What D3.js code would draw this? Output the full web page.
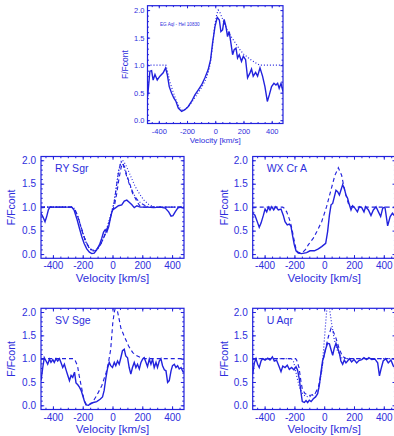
<!DOCTYPE html>
<html>
<head>
<meta charset="utf-8">
<script src="https://cdn.jsdelivr.net/npm/d3@7"></script>
<style>
  body { margin: 0; background: #fff; }
  svg { display: block; }
</style>
</head>
<body>
<svg id="chart" width="394" height="436"></svg>
<script>
// velocity axis + tick labels
const velRange = [-480, 480]
const velTicks = [-400, -200, 0, 200, 400]
const fluxTicks = [0, 0.5, 1.0, 1.5, 2.0]

// EG Aql - HeI 10830 (observed + model)
const egVel = [-479,-463,-451,-440,-427,-411,-392,-369,-352,-340,-326,-309,-293,-278,-262,-238,-215,-191,-168,-144,-120,-97,-73,-50,-33,-19,-2,14,29,40,52,63,76,87,99,111,123,134,147,158,170,186,199,215,229,246,257,269,286,300,317,335,352,369,383,399,416,430,442,453,466,480]
const egFlux = [0.43,0.89,0.9,0.73,0.83,0.73,0.8,0.86,0.95,0.83,0.61,0.49,0.4,0.34,0.22,0.16,0.19,0.25,0.34,0.46,0.55,0.64,0.77,0.92,1.1,1.4,1.7,1.87,1.82,1.61,1.64,1.83,1.7,1.52,1.61,1.4,1.19,1.28,1.31,1.13,1.19,1.07,1.16,1.1,0.77,0.86,0.93,0.8,0.87,0.8,0.95,0.8,0.61,0.34,0.46,0.61,0.67,0.64,0.67,0.58,0.67,0.52]
const egModelVel = [-480,-350,-336,-322,-302,-283,-264,-245,-230,-211,-187,-163,-139,-115,-91,-67,-48,-34,-19,-5,10,21,34,53,68,96,128,154,175,202,222,245,269,293,317,480]
const egModelFlux = [1.0,1.0,0.86,0.7,0.54,0.4,0.28,0.2,0.18,0.2,0.26,0.34,0.43,0.52,0.62,0.74,0.88,1.05,1.35,1.7,1.92,2.0,1.95,1.83,1.73,1.58,1.46,1.36,1.28,1.2,1.16,1.11,1.07,1.03,1.0,1.0]

// RY Sgr
const ryVel = [-480,-468,-453,-442,-430,-420,-374,-307,-274,-258,-240,-222,-206,-191,-173,-155,-139,-123,-106,-87,-72,-60,-49,-38,-25,-12,0,18,40,62,79,96,114,130,146,164,186,231,276,321,354,377,393,406,421,438,455,480]
const ryFlux = [0.87,0.8,0.69,0.8,0.95,1.0,1.0,1.0,1.0,0.94,0.76,0.55,0.37,0.23,0.11,0.04,0.01,0.02,0.09,0.2,0.34,0.47,0.52,0.47,0.59,0.8,0.94,0.98,1.03,1.05,1.13,1.15,1.1,1.05,0.99,1.03,1.0,1.0,0.99,1.0,0.98,0.9,0.81,0.82,0.9,0.98,1.0,0.98]
const ryDashVel = [-480,-274,-254,-235,-216,-197,-178,-158,-139,-120,-101,-82,-62,-43,-24,-5,14,29,43,58,69,82,96,119,134,153,168,186,211,480]
const ryDashFlux = [1.0,1.0,0.95,0.82,0.62,0.42,0.26,0.15,0.09,0.08,0.12,0.2,0.32,0.47,0.66,0.88,1.05,1.3,1.6,1.85,1.93,1.85,1.68,1.47,1.3,1.19,1.1,1.02,1.0,1.0]
const ryDashDotVel = [-480,-269,-250,-230,-211,-192,-173,-154,-134,-115,-96,-77,-58,-38,-19,0,14,29,43,58,72,91,115,139,163,192,221,250,480]
const ryDashDotFlux = [1.0,1.0,0.93,0.78,0.58,0.38,0.22,0.12,0.07,0.07,0.12,0.22,0.36,0.52,0.72,0.93,1.15,1.5,1.8,1.97,1.9,1.7,1.47,1.3,1.17,1.08,1.03,1.0,1.0]
const ryDotVel = [-480,-264,-252,-235,-216,-197,-178,-158,-139,-120,-101,-82,-62,-43,-24,-5,10,24,38,53,67,86,106,130,154,186,211,242,269,288,480]
const ryDotFlux = [1.0,1.0,0.95,0.82,0.62,0.42,0.25,0.13,0.07,0.06,0.1,0.2,0.34,0.5,0.7,0.92,1.1,1.4,1.72,1.93,2.0,1.92,1.78,1.6,1.43,1.26,1.15,1.06,1.02,1.0,1.0]

// WX Cr A
const wxVel = [-480,-465,-446,-436,-424,-408,-397,-386,-375,-364,-352,-339,-325,-308,-290,-275,-263,-248,-234,-223,-211,-201,-189,-174,-152,-118,-95,-66,-39,-17,10,23,35,46,57,68,79,90,102,112,124,135,146,157,169,180,191,206,223,236,252,267,278,297,314,330,348,364,379,393,408,426,443,458,476]
const wxFlux = [0.87,0.83,0.66,0.57,0.66,0.83,0.96,0.9,1.0,0.94,1.01,0.94,1.01,0.94,0.96,0.83,0.69,0.62,0.64,0.59,0.37,0.2,0.07,0.02,0.01,0.03,0.07,0.07,0.11,0.16,0.23,0.48,0.83,1.05,1.08,1.22,1.36,1.33,1.26,1.36,1.48,1.4,1.26,1.19,1.05,0.94,1.03,0.98,0.9,1.01,0.99,0.9,1.01,0.94,0.82,0.94,1.01,0.9,0.8,0.98,1.0,0.6,0.8,0.87,0.8]
const wxDashVel = [-480,-278,-264,-252,-240,-229,-218,-204,-190,-173,-144,-125,-106,-73,-51,-17,16,39,72,95,117,139,162,184,211,480]
const wxDashFlux = [1.0,1.0,0.97,0.9,0.8,0.7,0.56,0.33,0.12,0.03,0.04,0.1,0.2,0.34,0.47,0.69,1.01,1.29,1.68,1.84,1.68,1.33,1.08,1.01,1.0,1.0]

// SV Sge
const svVel = [-480,-468,-458,-446,-435,-423,-413,-401,-391,-379,-368,-356,-346,-334,-323,-312,-300,-289,-278,-267,-255,-245,-233,-222,-211,-200,-188,-178,-161,-146,-128,-106,-83,-67,-56,-45,-34,-22,-12,0,12,22,34,45,56,67,79,89,101,112,123,134,146,157,168,180,191,202,213,225,235,247,258,269,280,292,302,314,325,336,348,359,370,381,393,403,415,426,437,448,460,473,480]
const svFlux = [0.53,0.81,1.02,0.95,0.88,0.99,0.92,0.98,0.92,1.0,0.95,1.0,0.92,0.81,0.88,0.76,0.64,0.53,0.64,0.6,0.71,0.48,0.44,0.39,0.32,0.21,0.08,0.01,0.0,0.04,0.06,0.08,0.13,0.18,0.32,0.57,0.78,0.92,0.85,0.81,0.92,0.85,0.95,0.88,1.02,1.17,1.2,1.06,1.02,0.81,0.67,0.81,0.92,0.81,0.88,0.78,0.92,0.99,1.02,0.92,0.83,0.99,0.88,0.99,0.81,0.92,0.81,0.95,1.0,0.85,0.76,0.74,0.49,0.53,0.74,0.85,0.88,0.81,0.85,0.78,0.81,0.72,0.71]
const svDashVel = [-480,-264,-252,-235,-224,-206,-191,-173,-139,-106,-72,-42,-27,-12,2,12,24,40,56,79,108,136,164,191,221,480]
const svDashFlux = [1.0,1.0,0.97,0.85,0.64,0.35,0.11,0.0,0.04,0.21,0.42,0.71,0.92,1.2,1.77,2.0,2.15,1.92,1.66,1.48,1.27,1.13,1.06,1.02,1.0,1.0]

// U Aqr
const uaVel = [-480,-469,-458,-447,-436,-424,-414,-397,-379,-364,-348,-335,-320,-303,-290,-278,-263,-248,-234,-219,-203,-189,-179,-167,-156,-147,-133,-122,-111,-100,-88,-73,-58,-44,-33,-22,-11,1,12,23,35,46,57,68,79,90,102,112,124,135,146,157,169,184,200,218,233,252,267,285,300,319,341,359,371,381,396,413,430,448,464,476]
const uaFlux = [0.67,0.91,1.0,0.88,0.81,0.95,1.0,0.97,1.01,0.97,1.04,0.95,0.97,0.83,0.72,0.84,0.81,0.86,0.77,0.81,0.76,0.83,0.76,0.56,0.28,0.08,0.06,0.1,0.06,0.11,0.08,0.14,0.18,0.25,0.42,0.7,0.95,1.09,1.23,1.33,1.32,1.19,1.07,1.23,1.33,1.23,1.12,0.95,0.88,0.97,0.91,0.95,1.0,0.93,0.98,0.91,0.96,0.98,1.02,0.98,1.02,0.98,0.99,0.91,0.63,0.77,0.95,1.0,0.91,0.97,0.84,0.81]
const uaDashVel = [-480,-192,-185,-169,-157,-147,-129,-95,-61,-39,-22,-6,10,28,46,61,79,99,122,151,480]
const uaDashFlux = [1.0,1.0,0.97,0.81,0.53,0.35,0.25,0.21,0.25,0.39,0.67,0.98,1.23,1.47,1.65,1.58,1.44,1.23,1.05,1.0,1.0]
const uaDotVel = [-480,-221,-207,-196,-185,-169,-152,-130,-106,-82,-58,-39,-17,-6,6,16,29,39,50,68,90,117,144,480]
const uaDotFlux = [1.0,1.0,0.95,0.81,0.63,0.42,0.28,0.2,0.18,0.2,0.26,0.35,0.7,1.12,1.61,2.0,2.3,2.0,1.75,1.4,1.16,1.02,1.0,1.0]

const blue = "#2222dd"
const textBlue = "#2e2edc"
const font = "'Liberation Sans', Arial, sans-serif"
const dashed = "4,3", dotted = "1,2", dashDot = "4,2,1,2"

const svg = d3.select("#chart")
const defs = svg.append("defs")

// one entry per plot window
const panels = [
  { x0: 147.5, x1: 283, y0: 5.7, y1: 123.5, yDom: [-0.06, 2.08], font: 7.5, titleFont: 8, yTitleFont: 8.5,
    xPad: 5, yPad: 3, xTitleDy: 19.5, yTitleDx: 22.5,
    title: "EG Aql - HeI 10830",
    series: [
      { v: egVel, f: egFlux, dash: null },
      { v: egModelVel, f: egModelFlux, dash: dotted }
    ] },
  { x0: 41, x1: 184, y0: 156.5, y1: 258.3, yDom: [-0.09, 2.08], font: 10, titleFont: 11.5, yTitleFont: 10.5,
    xPad: 4, yPad: 5, xTitleDy: 23.8, yTitleDx: 30, label: "RY Sgr",
    series: [
      { v: ryVel, f: ryFlux, dash: null },
      { v: ryDashVel, f: ryDashFlux, dash: dashed },
      { v: ryDashDotVel, f: ryDashDotFlux, dash: dashDot },
      { v: ryDotVel, f: ryDotFlux, dash: dotted }
    ] },
  { x0: 252.7, x1: 395.7, y0: 156.5, y1: 258.3, yDom: [-0.09, 2.08], font: 10, titleFont: 11.5, yTitleFont: 10.5,
    xPad: 4, yPad: 5, xTitleDy: 23.8, yTitleDx: 28, label: "WX Cr A",
    series: [
      { v: wxVel, f: wxFlux, dash: null },
      { v: wxDashVel, f: wxDashFlux, dash: dashed }
    ] },
  { x0: 41, x1: 184, y0: 308.3, y1: 409.5, yDom: [-0.09, 2.08], font: 10, titleFont: 11.5, yTitleFont: 10.5,
    xPad: 4, yPad: 5, xTitleDy: 23.8, yTitleDx: 30, label: "SV Sge",
    series: [
      { v: svVel, f: svFlux, dash: null },
      { v: svDashVel, f: svDashFlux, dash: dashed }
    ] },
  { x0: 252.7, x1: 395.7, y0: 308.3, y1: 409.5, yDom: [-0.09, 2.08], font: 10, titleFont: 11.5, yTitleFont: 10.5,
    xPad: 4, yPad: 5, xTitleDy: 23.8, yTitleDx: 28, label: "U Aqr",
    series: [
      { v: uaVel, f: uaFlux, dash: null },
      { v: uaDashVel, f: uaDashFlux, dash: dashed },
      { v: uaDotVel, f: uaDotFlux, dash: dotted }
    ] }
]

const minorV = d3.range(-450, 451, 50)
const minorF = d3.range(0, 2.01, 0.1)

const styleAxis = (g, p) => {
  g.select(".domain").remove()
  g.selectAll("line").attr("stroke", blue).attr("stroke-width", 1)
  g.selectAll("text").attr("fill", textBlue).attr("font-size", p.font).attr("font-family", font)
}

panels.forEach((p, i) => {
  const x = d3.scaleLinear().domain(velRange).range([p.x0, p.x1])
  const y = d3.scaleLinear().domain(p.yDom).range([p.y1, p.y0])
  const g = svg.append("g")
  const big = p.font > 8 ? 3.2 : 2.6, small = big * 0.55

  defs.append("clipPath").attr("id", "clip" + i)
    .append("rect").attr("x", p.x0).attr("y", p.y0)
    .attr("width", p.x1 - p.x0).attr("height", p.y1 - p.y0)

  const line = d3.line().x(d => x(d[0])).y(d => y(d[1]))
  const lines = g.append("g").attr("clip-path", "url(#clip" + i + ")")
  p.series.forEach(s => {
    lines.append("path").datum(d3.zip(s.v, s.f))
      .attr("d", line).attr("fill", "none").attr("stroke", blue)
      .attr("stroke-width", s.dash ? 1.15 : 1.4)
      .attr("stroke-dasharray", s.dash)
  })

  // frame
  g.append("rect").attr("x", p.x0).attr("y", p.y0)
    .attr("width", p.x1 - p.x0).attr("height", p.y1 - p.y0)
    .attr("fill", "none").attr("stroke", blue).attr("stroke-width", 1.2)

  // ticks on all four sides, pointing inwards
  g.append("g").attr("transform", `translate(0,${p.y1})`)
    .call(d3.axisBottom(x).tickValues(velTicks).tickSize(-big).tickPadding(p.xPad).tickFormat(d => String(d)))
    .call(a => styleAxis(a, p))
  g.append("g").attr("transform", `translate(0,${p.y1})`)
    .call(d3.axisBottom(x).tickValues(minorV).tickSize(-small).tickFormat(""))
    .call(a => styleAxis(a, p))
  g.append("g").attr("transform", `translate(0,${p.y0})`)
    .call(d3.axisTop(x).tickValues(velTicks).tickSize(-big).tickFormat(""))
    .call(a => styleAxis(a, p))
  g.append("g").attr("transform", `translate(0,${p.y0})`)
    .call(d3.axisTop(x).tickValues(minorV).tickSize(-small).tickFormat(""))
    .call(a => styleAxis(a, p))
  g.append("g").attr("transform", `translate(${p.x0},0)`)
    .call(d3.axisLeft(y).tickValues(fluxTicks).tickSize(-big).tickPadding(p.yPad).tickFormat(d3.format(".1f")))
    .call(a => styleAxis(a, p))
  g.append("g").attr("transform", `translate(${p.x0},0)`)
    .call(d3.axisLeft(y).tickValues(minorF).tickSize(-small).tickFormat(""))
    .call(a => styleAxis(a, p))
  g.append("g").attr("transform", `translate(${p.x1},0)`)
    .call(d3.axisRight(y).tickValues(fluxTicks).tickSize(-big).tickFormat(""))
    .call(a => styleAxis(a, p))
  g.append("g").attr("transform", `translate(${p.x1},0)`)
    .call(d3.axisRight(y).tickValues(minorF).tickSize(-small).tickFormat(""))
    .call(a => styleAxis(a, p))

  // axis titles
  g.append("text").attr("x", x(0)).attr("y", p.y1 + p.xTitleDy)
    .attr("text-anchor", "middle").attr("fill", textBlue)
    .attr("font-size", p.titleFont).attr("font-family", font)
    .text("Velocity [km/s]")
  const yc = (p.y0 + p.y1) / 2, xc = p.x0 - p.yTitleDx
  g.append("text").attr("transform", `translate(${xc},${yc}) rotate(-90)`)
    .attr("text-anchor", "middle").attr("dy", "0.35em").attr("fill", textBlue)
    .attr("font-size", p.yTitleFont).attr("font-family", font)
    .text("F/Fcont")

  if (p.label) {
    g.append("text").attr("x", p.x0 + 14).attr("y", p.y0 + 15.5)
      .attr("fill", textBlue).attr("font-size", 10.5).attr("font-family", font)
      .text(p.label)
  }
  if (p.title) {
    g.append("text").attr("x", p.x0 + 12.5).attr("y", p.y0 + 19.8)
      .attr("fill", textBlue).attr("font-size", 4.6).attr("font-family", font)
      .text(p.title)
  }
})
</script>
</body>
</html>
